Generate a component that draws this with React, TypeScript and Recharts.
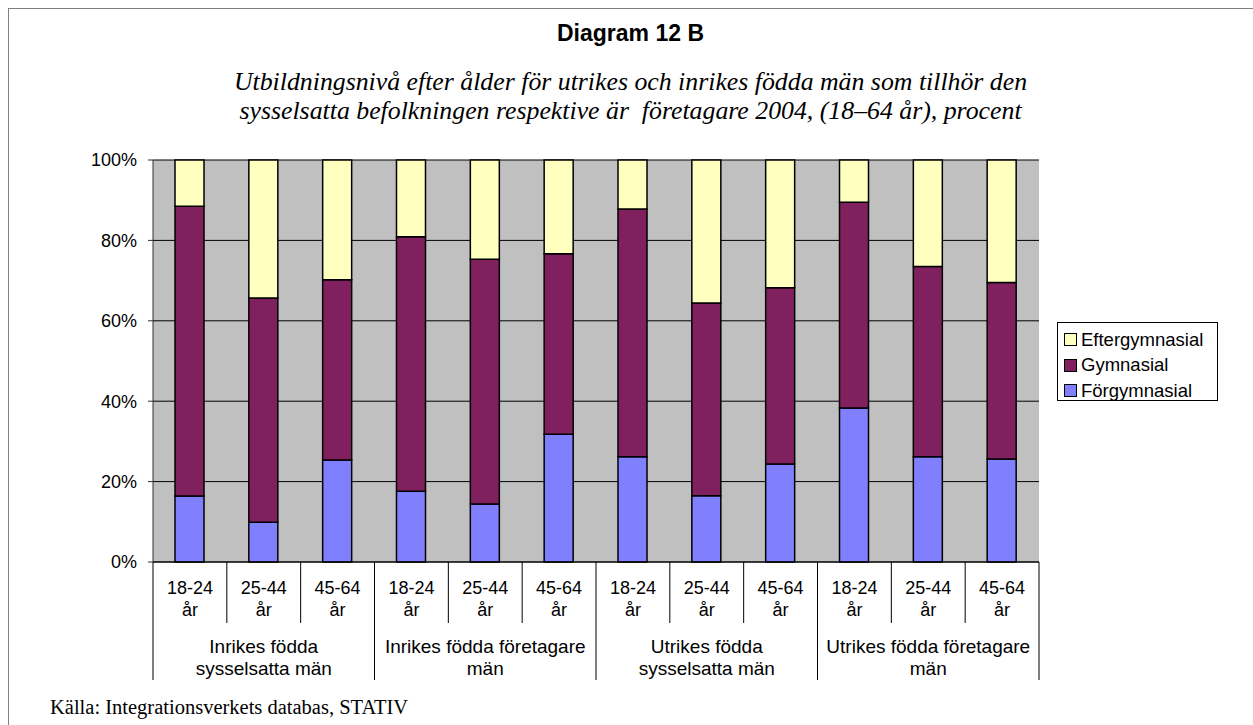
import { Bar, BarChart, CartesianGrid, XAxis, YAxis } from "recharts";

const ageLabels = ["18-24", "25-44", "45-64", "18-24", "25-44", "45-64", "18-24", "25-44", "45-64", "18-24", "25-44", "45-64"];
const groupLabels = [
  ["Inrikes födda", "sysselsatta män"],
  ["Inrikes födda företagare", "män"],
  ["Utrikes födda", "sysselsatta män"],
  ["Utrikes födda företagare", "män"],
];
const forgymnasial = [16.4, 9.9, 25.4, 17.6, 14.4, 31.8, 26.2, 16.5, 24.4, 38.3, 26.2, 25.6];
const gymnasial = [72.1, 55.8, 44.8, 63.3, 60.9, 44.9, 61.6, 47.9, 43.8, 51.2, 47.3, 43.9];
const eftergymnasial = [11.5, 34.3, 29.8, 19.1, 24.7, 23.3, 12.2, 35.6, 31.8, 10.5, 26.5, 30.5];
const yTicks = [0, 20, 40, 60, 80, 100];

const data = ageLabels.map((age, i) => ({
  key: `${i}-${age}`,
  age,
  forg: forgymnasial[i],
  gym: gymnasial[i],
  eft: eftergymnasial[i],
}));

const W = 1253;
const H = 725;
const M = { top: 160, right: 214, bottom: 43, left: 93 };
const Y_W = 60;
const X_H = 120;
const PLOT_W = W - M.left - Y_W - M.right;
const BAND = PLOT_W / ageLabels.length;

const C_EFT = "#FFFFC0";
const C_GYM = "#80205F";
const C_FORG = "#8080FF";
const FONT = "'Liberation Sans', Arial, sans-serif";
const SERIF = "'Liberation Serif', 'Times New Roman', serif";

function CategoryTick(props: any) {
  const { x, y, index } = props;
  const half = BAND / 2;
  const endOfGroup = index % 3 === 2;
  const group = groupLabels[Math.floor(index / 3)];
  return (
    <g>
      {index === 0 && <line x1={x - half} x2={x - half} y1={y} y2={y + 118} stroke="#000" />}
      <line x1={x + half} x2={x + half} y1={y} y2={y + (endOfGroup ? 118 : 61)} stroke="#000" />
      <text textAnchor="middle" fontFamily={FONT} fontSize={18} fill="#000">
        <tspan x={x} y={y + 32}>{ageLabels[index]}</tspan>
        <tspan x={x} y={y + 54}>år</tspan>
      </text>
      {index % 3 === 1 && (
        <text textAnchor="middle" fontFamily={FONT} fontSize={19} fill="#000">
          <tspan x={x} y={y + 91}>{group[0]}</tspan>
          <tspan x={x} y={y + 113}>{group[1]}</tspan>
        </text>
      )}
    </g>
  );
}

const legendItems = [
  { name: "Eftergymnasial", color: C_EFT },
  { name: "Gymnasial", color: C_GYM },
  { name: "Förgymnasial", color: C_FORG },
];

export default function App() {
  return (
    <div style={{ position: "absolute", left: 0, top: 0, width: W, height: H, overflow: "hidden", background: "#fff" }}>
      <div
        style={{
          position: "absolute",
          left: 8,
          top: 8,
          width: W + 20,
          height: H + 20,
          borderTop: "1.5px solid #808080",
          borderLeft: "1.5px solid #808080",
        }}
      />
      <div
        style={{
          position: "absolute",
          left: 0,
          width: W,
          top: 20,
          textAlign: "center",
          fontFamily: FONT,
          fontWeight: "bold",
          fontSize: 23,
          paddingLeft: 4,
        }}
      >
        Diagram 12 B
      </div>
      <div
        style={{
          position: "absolute",
          left: 0,
          width: W,
          top: 67,
          textAlign: "center",
          fontFamily: SERIF,
          fontStyle: "italic",
          fontSize: 25.8,
          lineHeight: "29px",
          paddingLeft: 4,
        }}
      >
        Utbildningsnivå efter ålder för utrikes och inrikes födda män som tillhör den
        <br />
        sysselsatta befolkningen respektive är&nbsp; företagare 2004, (18–64 år), procent
      </div>
      <div style={{ position: "absolute", left: 50, top: 696, fontFamily: SERIF, fontSize: 20.5 }}>
        Källa: Integrationsverkets databas, STATIV
      </div>

      <div style={{ position: "absolute", left: 0, top: 0 }}>
        <BarChart width={W} height={H} data={data} margin={M} barSize={29}>
          <CartesianGrid
            xAxisId="cat"
            yAxisId="pct"
            vertical={false}
            fill="#C0C0C0"
            fillOpacity={1}
            stroke="#000"
            strokeWidth={1}
          />
          <XAxis
            xAxisId="cat"
            dataKey="key"
            height={X_H}
            interval={0}
            tickLine={false}
            tickSize={0}
            tickMargin={0}
            axisLine={{ stroke: "#000" }}
            tick={<CategoryTick />}
          />
          <XAxis xAxisId="top" orientation="top" dataKey="key" height={0} tick={false} tickLine={false} axisLine={{ stroke: "#808080", strokeWidth: 1.5 }} />
          <YAxis
            yAxisId="pct"
            domain={[0, 100]}
            ticks={yTicks}
            width={Y_W}
            tickFormatter={(v: number) => `${v}%`}
            tickSize={5}
            tickMargin={11}
            tick={{ fontSize: 18, fill: "#000", fontFamily: FONT }}
            tickLine={{ stroke: "#333" }}
            axisLine={{ stroke: "#333" }}
          />
          <YAxis yAxisId="right" orientation="right" domain={[0, 100]} width={0} tick={false} tickLine={false} axisLine={{ stroke: "#808080", strokeWidth: 1.5 }} />
          <Bar xAxisId="cat" yAxisId="pct" dataKey="forg" name="Förgymnasial" stackId="a" fill={C_FORG} stroke="#000" strokeWidth={1.5} isAnimationActive={false} />
          <Bar xAxisId="cat" yAxisId="pct" dataKey="gym" name="Gymnasial" stackId="a" fill={C_GYM} stroke="#000" strokeWidth={1.5} isAnimationActive={false} />
          <Bar xAxisId="cat" yAxisId="pct" dataKey="eft" name="Eftergymnasial" stackId="a" fill={C_EFT} stroke="#000" strokeWidth={1.5} isAnimationActive={false} />
        </BarChart>
      </div>

      <div
        style={{
          position: "absolute",
          left: 1057,
          top: 322,
          width: 161,
          height: 79,
          border: "1px solid #000",
          background: "#fff",
          fontFamily: FONT,
          fontSize: 18.5,
          padding: "4px 0 0 6px",
          boxSizing: "border-box",
        }}
      >
        {legendItems.map((it) => (
          <div key={it.name} style={{ display: "flex", alignItems: "center", height: 25.5 }}>
            <span
              style={{
                display: "inline-block",
                width: 11,
                height: 11,
                background: it.color,
                border: "1px solid #000",
                marginRight: 4,
              }}
            />
            {it.name}
          </div>
        ))}
      </div>
    </div>
  );
}
